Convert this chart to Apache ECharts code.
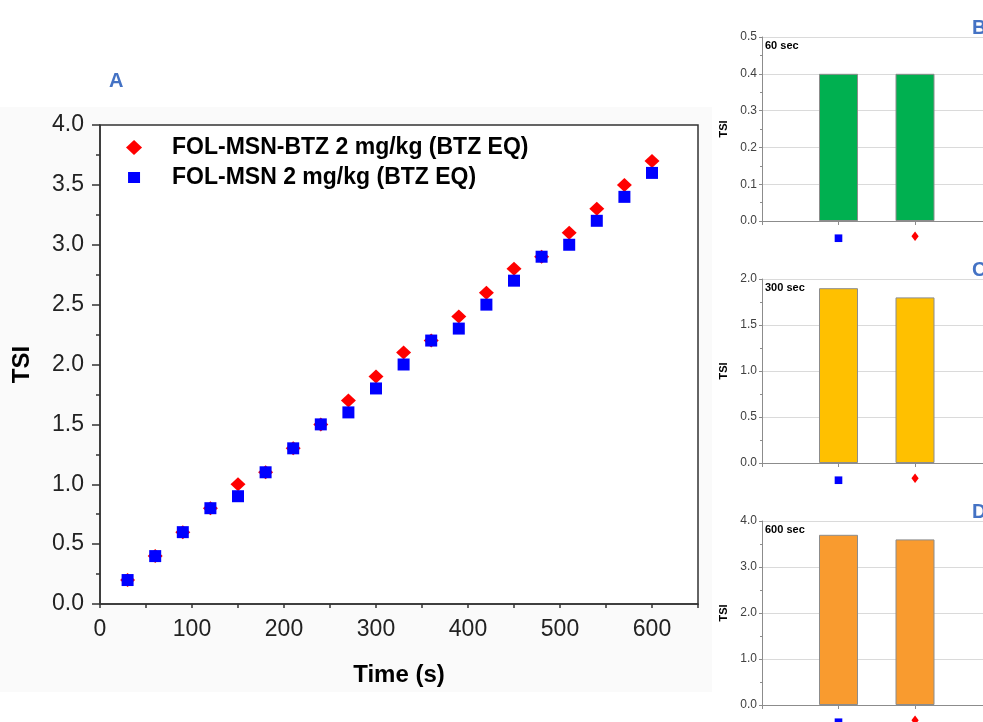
<!DOCTYPE html>
<html>
<head>
<meta charset="utf-8">
<script src="https://cdn.jsdelivr.net/npm/echarts@6/dist/echarts.min.js"></script>
<style>
html, body { margin: 0; padding: 0; background: #fff; }
#main { width: 983px; height: 722px; }
#err { position: absolute; left: 0; top: 0; font: 11px monospace; color: #c00; white-space: pre; }
</style>
</head>
<body>
<div id="main"></div>
<div id="err"></div>
<script>
// time course (panel A)
var timeSec = [30, 60, 90, 120, 150, 180, 210, 240, 270, 300, 330, 360, 390, 420, 450, 480, 510, 540, 570, 600];
var tsiBtz = [0.2, 0.4, 0.6, 0.8, 1.0, 1.1, 1.3, 1.5, 1.7, 1.9, 2.1, 2.2, 2.4, 2.6, 2.8, 2.9, 3.1, 3.3, 3.5, 3.7];
var tsiMsn = [0.2, 0.4, 0.6, 0.8, 0.9, 1.1, 1.3, 1.5, 1.6, 1.8, 2.0, 2.2, 2.3, 2.5, 2.7, 2.9, 3.0, 3.2, 3.4, 3.6];
var timeTicks = [0, 100, 200, 300, 400, 500, 600];
var nameBtz = 'FOL-MSN-BTZ 2 mg/kg (BTZ EQ)';
var nameMsn = 'FOL-MSN 2 mg/kg (BTZ EQ)';

// snapshot bars (panels B, C, D) - first bar = square, second = diamond
var barSlots = [1, 2];
var bar60 = [0.4, 0.4];
var bar300 = [1.9, 1.8];
var bar600 = [3.7, 3.6];

var myChart = echarts.init(document.getElementById('main'));

function pairs(xs, ys) {
	var out = [];
	for (var i = 0; i < xs.length; i++) {
		out.push([xs[i], ys[i]]);
	}
	return out;
}

var grids = [{
	left: 100, top: 125, width: 598, height: 479, outerBoundsMode: 'none',
	show: true, borderColor: '#333', borderWidth: 1.5, backgroundColor: '#fff'
}];
var xAxes = [{
	gridIndex: 0, type: 'value', min: 0, max: 650, interval: 50,
	axisLine: { lineStyle: { color: '#333', width: 1.5 } },
	axisTick: { length: 4, lineStyle: { color: '#333', width: 1.5 } },
	axisLabel: {
		fontSize: 23, color: '#222', margin: 14,
		formatter: function(v) { return timeTicks.indexOf(v) >= 0 ? String(v) : ''; }
	},
	splitLine: { show: false },
	name: 'Time (s)', nameLocation: 'middle', nameGap: 59,
	nameTextStyle: { fontSize: 24, fontWeight: 'bold', color: '#000' }
}];
var yAxes = [{
	gridIndex: 0, type: 'value', min: 0, max: 4, interval: 0.5,
	axisLine: { show: true, lineStyle: { color: '#333', width: 1.5 } },
	axisTick: { show: true, length: 8, lineStyle: { color: '#333', width: 1.5 } },
	minorTick: { show: true, splitNumber: 2, length: 4, lineStyle: { color: '#333', width: 1.5 } },
	axisLabel: {
		fontSize: 23, color: '#222', margin: 16,
		formatter: function(v) { return v.toFixed(1); }
	},
	splitLine: { show: false },
	name: 'TSI', nameLocation: 'middle', nameGap: 66,
	nameTextStyle: { fontSize: 24, fontWeight: 'bold', color: '#000' }
}];
var series = [{
	name: nameBtz, type: 'scatter', xAxisIndex: 0, yAxisIndex: 0,
	symbol: 'diamond', symbolSize: [15, 14],
	itemStyle: { color: '#ff0000', opacity: 1 },
	data: pairs(timeSec, tsiBtz)
}, {
	name: nameMsn, type: 'scatter', xAxisIndex: 0, yAxisIndex: 0,
	symbol: 'rect', symbolSize: 12,
	itemStyle: { color: '#0000ff', opacity: 1 },
	data: pairs(timeSec, tsiMsn)
}];

var graphics = [
	{ type: 'rect', z: -10, shape: { x: 0, y: 107, width: 712, height: 585 }, style: { fill: '#fafafa' } },
	{ type: 'text', left: 109, top: 71, style: { text: 'A', fill: '#4472c4', font: 'bold 20px "Liberation Sans"' } }
];

function addPanel(top, max, interval, values, color, tag, letter) {
	var idx = grids.length;
	grids.push({ left: 762, top: top, width: 306, height: 184, outerBoundsMode: 'none' });
	xAxes.push({
		gridIndex: idx, type: 'value', min: 0, max: 4, interval: 1,
		axisLine: { lineStyle: { color: '#8c8c8c' } },
		axisTick: { length: 4, lineStyle: { color: '#8c8c8c' } },
		splitLine: { show: false },
		axisLabel: {
			margin: 11,
			formatter: function(v) {
				if (v === barSlots[0]) return '{sq|\u25a0}';
				if (v === barSlots[1]) return '{dm|\u2666}';
				return '';
			},
			rich: {
				sq: { color: '#0000ff', fontSize: 10, lineHeight: 12, fontFamily: 'DejaVu Sans' },
				dm: { color: '#ff0000', fontSize: 13, lineHeight: 12, fontFamily: 'DejaVu Sans' }
			}
		}
	});
	yAxes.push({
		gridIndex: idx, type: 'value', min: 0, max: max, interval: interval,
		axisLine: { show: true, lineStyle: { color: '#8c8c8c' } },
		axisTick: { show: true, length: 3, lineStyle: { color: '#8c8c8c' } },
		minorTick: { show: true, splitNumber: 2, length: 2, lineStyle: { color: '#8c8c8c' } },
		splitLine: { lineStyle: { color: '#dadada' } },
		axisLabel: {
			fontSize: 12, color: '#404040', margin: 5,
			formatter: function(v) { return v.toFixed(1); }
		},
		name: 'TSI', nameLocation: 'middle', nameGap: 33,
		nameTextStyle: { fontSize: 11, fontWeight: 'bold', color: '#000' }
	});
	series.push({
		type: 'bar', xAxisIndex: idx, yAxisIndex: idx, barWidth: 39,
		itemStyle: { color: color, borderColor: '#8c8c8c', borderWidth: 1 },
		data: pairs(barSlots, values)
	});
	graphics.push({ type: 'text', left: 765, top: top + 3, style: { text: tag, fill: '#000', font: 'bold 11px "Liberation Sans"' } });
	graphics.push({ type: 'text', left: 972, top: top - 19, style: { text: letter, fill: '#4472c4', font: 'bold 20px "Liberation Sans"' } });
}

addPanel(37, 0.5, 0.1, bar60, '#00b050', '60 sec', 'B');
addPanel(279, 2, 0.5, bar300, '#ffc000', '300 sec', 'C');
addPanel(521, 4, 1, bar600, '#f99b2f', '600 sec', 'D');

var option = {
	backgroundColor: '#fff',
	animation: false,
	textStyle: { fontFamily: 'Liberation Sans' },
	legend: {
		orient: 'vertical', left: 121, top: 131,
		itemWidth: 66, itemHeight: 15, itemGap: 7,
		textStyle: { fontSize: 23, fontWeight: 'bold', color: '#000' },
		data: [
			{ name: nameBtz, icon: 'path://M0,-7L7.5,0L0,7L-7.5,0Z' },
			{ name: nameMsn, icon: 'path://M-6,-5.5H6V5.5H-6Z M-7.5,-7.5 M7.5,7.5' }
		]
	},
	grid: grids,
	xAxis: xAxes,
	yAxis: yAxes,
	series: series,
	graphic: { elements: graphics }
};

try {
	myChart.setOption(option);
} catch (e) {
	document.getElementById('err').textContent = e.stack;
}
</script>
</body>
</html>
